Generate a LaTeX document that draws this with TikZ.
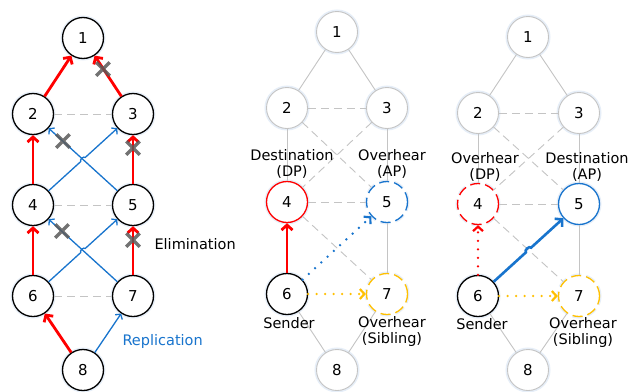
\documentclass[tikz,border=0pt]{standalone}
\usepackage{fontspec}
\setmainfont{DejaVu Sans}
\usetikzlibrary{arrows.meta,shapes.misc,calc}
\definecolor{rd}{HTML}{FF0000}
\definecolor{bl}{HTML}{1874CD}
\definecolor{yl}{HTML}{FFC000}
\definecolor{gl}{HTML}{C4C4C4}
\definecolor{xg}{HTML}{5A5A5A}
\definecolor{glow}{HTML}{E6EEF8}
\begin{document}
\begin{tikzpicture}[x=1pt,y=-1pt,
  nd/.style={circle, minimum size=41pt, inner sep=0pt, fill=white, draw=black, line width=1.3pt,
    font=\fontsize{15}{15}\selectfont, preaction={draw=glow, line width=4pt}},
  gnd/.style={nd, draw=gl, line width=0.9pt},
  dcirc/.style={dash pattern=on 10pt off 5pt},
  redarr/.style={draw=rd, line width=2.8pt, -{Straight Barb[length=5pt,width=11pt]}},
  bluearr/.style={draw=bl, line width=1.3pt, -{Straight Barb[length=3.5pt,width=8.5pt]}},
  gline/.style={draw=gl, line width=0.9pt},
  gdash/.style={gline, dash pattern=on 8pt off 5pt},
  dotl/.style={line width=2.6pt, line cap=round, dash pattern=on 0pt off 8.5pt},
  dtip/.style={-{Straight Barb[length=4.5pt,width=10pt,line width=2.2pt]}},
  xm/.style={cross out, draw=xg, line width=3.5pt, minimum size=10pt, inner sep=0pt, opacity=0.85},
  lbl/.style={font=\fontsize{14.5}{16}\selectfont, align=center}
]
\useasboundingbox[fill=white] (0,0) rectangle (631,391);

% ---------------- Panel 1 ----------------
\node[nd] (a1) at (83,38) {1};
\node[nd] (a2) at (33,114) {2};
\node[nd] (a3) at (133,114) {3};
\node[nd] (a4) at (33,205) {4};
\node[nd] (a5) at (133,205) {5};
\node[nd] (a6) at (33,296) {6};
\node[nd] (a7) at (133,296) {7};
\node[nd] (a8) at (83,370) {8};

\draw[gdash] (a2) -- (a3);
\draw[gdash] (a4) -- (a5);
\draw[gdash] (a6) -- (a7);

\draw[redarr] (a2) -- (a1);
\draw[redarr] (a3) -- (a1);
\draw[redarr] (a4) -- (a2);
\draw[redarr] (a5) -- (a3);
\draw[redarr] (a6) -- (a4);
\draw[redarr] (a7) -- (a5);
\draw[redarr] (a8) -- (a6);
\draw[bluearr] (a8) -- (a7);

\coordinate (c1) at ($(a4)!0.5!(a3)$);
\coordinate (c2) at ($(a6)!0.5!(a5)$);
\draw[bluearr] (a5) -- (a2);
\draw[bluearr] (a4) -- ($(c1)!3pt!(a4)$) to[bend left=90] ($(c1)!3pt!(a3)$) -- (a3);
\draw[bluearr] (a7) -- (a4);
\draw[bluearr] (a6) -- ($(c2)!3pt!(a6)$) to[bend left=90] ($(c2)!3pt!(a5)$) -- (a5);

\node[xm] (x1) at (103,69) {};
\node[xm] (x2) at (63,141) {};
\node[xm] (x3) at (133,148) {};
\node[xm] (x4) at (62,231) {};
\node[xm] (x5) at (133,240) {};

\node[lbl, anchor=west] (elim) at (151,244) {Elimination};
\node[lbl, anchor=west, text=bl] (repl) at (119,341) {Replication};

% ---------------- Panel 2 ----------------
\node[gnd] (b1) at (337,32) {1};
\node[gnd] (b2) at (287,108) {2};
\node[gnd] (b3) at (387,108) {3};
\node[nd, draw=rd] (b4) at (287,202) {4};
\node[nd, draw=bl, dcirc] (b5) at (387,202) {5};
\node[nd] (b6) at (287,294) {6};
\node[nd, draw=yl, dcirc] (b7) at (387,294) {7};
\node[gnd] (b8) at (337,370) {8};

\path (b1) edge[gline] (b2) (b1) edge[gline] (b3)
      (b2) edge[gline] (b4) (b3) edge[gline] (b5)
      (b5) edge[gline] (b7) (b6) edge[gline] (b8) (b7) edge[gline] (b8)
      (b2) edge[gdash] (b3) (b2) edge[gdash] (b5) (b3) edge[gdash] (b4)
      (b4) edge[gdash] (b5) (b4) edge[gdash] (b7);

\node[lbl] (d2) at (292,164) {Destination\\(DP)};
\node[lbl] (o2) at (392,164) {Overhear\\(AP)};
\node[lbl] (s2) at (289,323) {Sender};
\node[lbl] (sb2) at (392,331) {Overhear\\(Sibling)};

\draw[redarr] (b6) -- (b4);
\draw[dotl, bl, dtip] (b6) -- (b5);
\draw[dotl, yl, dtip] (b6) -- (b7);

% ---------------- Panel 3 ----------------
\node[gnd] (c1n) at (528,37) {1};
\node[gnd] (c2n) at (478,113) {2};
\node[gnd] (c3n) at (579,113) {3};
\node[nd, draw=rd, dcirc] (c4n) at (478,204) {4};
\node[nd, draw=bl] (c5n) at (579,204) {5};
\node[nd] (c6n) at (478,296) {6};
\node[nd, draw=yl, dcirc] (c7n) at (579,296) {7};
\node[gnd] (c8n) at (528,370) {8};

\path (c1n) edge[gline] (c2n) (c1n) edge[gline] (c3n)
      (c2n) edge[gline] (c4n) (c3n) edge[gline] (c5n)
      (c5n) edge[gline] (c7n) (c6n) edge[gline] (c8n) (c7n) edge[gline] (c8n)
      (c2n) edge[gdash] (c3n) (c2n) edge[gdash] (c5n) (c3n) edge[gdash] (c4n)
      (c4n) edge[gdash] (c5n) (c4n) edge[gdash] (c7n);

\node[lbl] (o3) at (485,167) {Overhear\\(DP)};
\node[lbl] (d3) at (587,167) {Destination\\(AP)};
\node[lbl] (s3) at (482,324) {Sender};
\node[lbl] (sb3) at (583,332) {Overhear\\(Sibling)};

\coordinate (c3x) at ($(c6n)!0.5!(c5n)$);
\draw[dotl, rd, dtip] (c6n) -- (c4n);
\draw[draw=bl, line width=2.6pt, -{Straight Barb[length=5pt,width=11pt]}]
  (c6n) -- ($(c3x)!3.5pt!(c6n)$) to[bend left=90] ($(c3x)!3.5pt!(c5n)$) -- (c5n);
\draw[dotl, yl, dtip] (c6n) -- (c7n);
\end{tikzpicture}
\end{document}
